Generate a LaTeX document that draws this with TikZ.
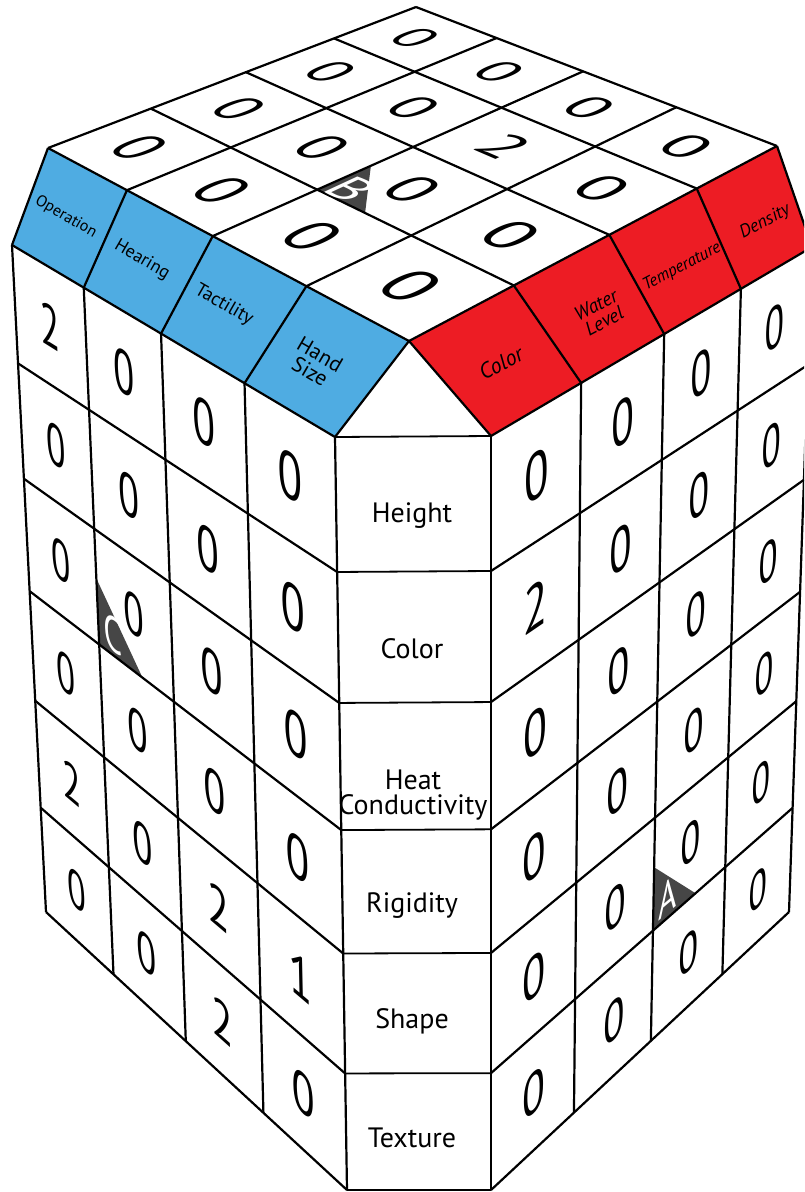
\documentclass[tikz,border=0pt]{standalone}
\usepackage{fontspec}
\setmainfont{PT Sans}
\usetikzlibrary{calc}
\definecolor{cubeblue}{RGB}{79,172,226}
\definecolor{cubered}{RGB}{237,28,36}
\definecolor{markgray}{RGB}{70,70,70}
% homography from unit square: P00=(#1,#2) P10=(#3,#4) P11=(#5,#6) P01=(#7,#8)
\newcommand\Hset[8]{%
  \edef\Hdxa{\fpeval{(#3)-(#5)}}%
  \edef\Hdxb{\fpeval{(#7)-(#5)}}%
  \edef\Hdxc{\fpeval{(#1)-(#3)+(#5)-(#7)}}%
  \edef\Hdya{\fpeval{(#4)-(#6)}}%
  \edef\Hdyb{\fpeval{(#8)-(#6)}}%
  \edef\Hdyc{\fpeval{(#2)-(#4)+(#6)-(#8)}}%
  \edef\Hden{\fpeval{(\Hdxa)*(\Hdyb)-(\Hdxb)*(\Hdya)}}%
  \edef\Hg{\fpeval{((\Hdxc)*(\Hdyb)-(\Hdxb)*(\Hdyc))/(\Hden)}}%
  \edef\Hh{\fpeval{((\Hdxa)*(\Hdyc)-(\Hdxc)*(\Hdya))/(\Hden)}}%
  \edef\Ha{\fpeval{(#3)-(#1)+(\Hg)*(#3)}}%
  \edef\Hb{\fpeval{(#7)-(#1)+(\Hh)*(#7)}}%
  \edef\Hc{#1}%
  \edef\Hd{\fpeval{(#4)-(#2)+(\Hg)*(#4)}}%
  \edef\He{\fpeval{(#8)-(#2)+(\Hh)*(#8)}}%
  \edef\Hf{#2}%
}
\newcommand\HP[2]{%
  \edef\Hq{\fpeval{(\Hg)*(#1)+(\Hh)*(#2)+1}}%
  \edef\px{\fpeval{round(((\Ha)*(#1)+(\Hb)*(#2)+(\Hc))/(\Hq),3)}}%
  \edef\py{\fpeval{round(((\Hd)*(#1)+(\He)*(#2)+(\Hf))/(\Hq),3)}}%
}
% local frame of a cell: u0 u1 v0 v1 S ; sign \Hs (+1: up = +v, -1: up = -v)
\newcommand\Hframe[5]{%
  \edef\uc{\fpeval{((#1)+(#2))/2}}\edef\vc{\fpeval{((#3)+(#4))/2}}%
  \HP{\uc}{\vc}\let\Cx\px\let\Cy\py
  \HP{#1}{\vc}\let\Lx\px\let\Ly\py
  \HP{#2}{\vc}\let\Rx\px\let\Ry\py
  \HP{\uc}{#3}\let\Ax\px\let\Ay\py
  \HP{\uc}{#4}\let\Bx\px\let\By\py
  \edef\Ea{\fpeval{round(((\Rx)-(\Lx))/(#5),4)}}%
  \edef\Eb{\fpeval{round(-((\Ry)-(\Ly))/(#5),4)}}%
  \edef\Ec{\fpeval{round((\Hs)*((\Bx)-(\Ax))/(#5),4)}}%
  \edef\Ed{\fpeval{round(-(\Hs)*((\By)-(\Ay))/(#5),4)}}%
}
\newcommand\gridpts[3]{%
  \foreach \i in {0,...,#2}{\foreach \j in {0,...,#3}{%
    \HP{\i/#2}{\j/#3}\coordinate (#1-\i-\j) at (\px,\py);}}}
\newcommand\Tface{\Hset{48}{148}{409}{341}{777}{146}{416}{7}}
\newcommand\Lface{\Hset{12}{245}{335}{437}{347}{1190}{46}{912}}
\newcommand\Rface{\Hset{491}{436}{812}{247}{789}{912}{491}{1190}}
\begin{document}
\begin{tikzpicture}[x=1pt,y=-1pt,
  ln/.style={line width=2.2pt},
  mln/.style={line width=1.8pt},
  dig/.style={font=\fontsize{10}{12}\selectfont, inner sep=0pt},
  mlet/.style={font=\fontsize{8.5}{10}\selectfont, inner sep=0pt, text=white},
  midlab/.style={font=\fontsize{28}{25}\selectfont, inner sep=0pt, anchor=base},
  bluelab/.style={inner sep=0pt, rotate=-30, align=center},
  redlab/.style={inner sep=0pt, rotate=28, align=center},
  blueface/.style={fill=cubeblue},
  redface/.style={fill=cubered},
  marker/.style={fill=markgray}]
\useasboundingbox (0,0) rectangle (804,1192);
\fill[white] (0,0) rectangle (804,1192);
\clip (0,0) rectangle (804,1192);
% ---------- coordinates
\Tface
\gridpts{t}{4}{4}
\HP{0.5}{0.25}\coordinate (b0) at (\px,\py);
\HP{0.63}{0.25}\coordinate (b1) at (\px,\py);
\HP{0.5}{0.3875}\coordinate (b2) at (\px,\py);
\Lface
\gridpts{l}{4}{6}
\HP{0.25}{0.5}\coordinate (c0) at (\px,\py);
\HP{0.25}{0.4043}\coordinate (c1) at (\px,\py);
\HP{0.397}{0.5}\coordinate (c2) at (\px,\py);
\Rface
\gridpts{r}{4}{6}
\HP{0.5}{0.83333}\coordinate (a0) at (\px,\py);
\HP{0.5}{0.7393}\coordinate (a1) at (\px,\py);
\HP{0.645}{0.83333}\coordinate (a2) at (\px,\py);
% ---------- coloured strips
\foreach \i/\k in {0/1,1/2,2/3,3/4}{
  \fill[blueface] (t-\i-0) -- (t-\k-0) -- (l-\k-0) -- (l-\i-0) -- cycle;
  \fill[redface] (t-4-\i) -- (t-4-\k) -- (r-\k-0) -- (r-\i-0) -- cycle;
}
% ---------- markers
\fill[marker] (b0) -- (b1) -- (b2) -- cycle;
\fill[marker] (c0) -- (c1) -- (c2) -- cycle;
\fill[marker] (a0) -- (a1) -- (a2) -- cycle;
% ---------- lines
\foreach \i in {0,...,4}{
  \draw[ln] (t-\i-0) -- (t-\i-4);
  \draw[ln] (t-0-\i) -- (t-4-\i);
  \draw[ln] (l-\i-0) -- (l-\i-6);
  \draw[ln] (r-\i-0) -- (r-\i-6);
  \draw[ln] (t-\i-0) -- (l-\i-0);
  \draw[ln] (t-4-\i) -- (r-\i-0);
}
\foreach \j in {0,...,6}{
  \draw[ln] (l-0-\j) -- (l-4-\j);
  \draw[ln] (r-0-\j) -- (r-4-\j);
  \draw[mln] (l-4-\j) -- (r-0-\j);
}
% ---------- middle labels
\node[midlab] (m1) at (412,522) {Height};
\node[midlab] (m2) at (412,658) {Color};
\node[midlab, anchor=center, align=center] (m3) at (413,795) {Heat\\Conductivity};
\node[midlab] (m4) at (412,912) {Rigidity};
\node[midlab] (m5) at (412,1028) {Shape};
\node[midlab] (m6) at (412,1147) {Texture};
% ---------- strip labels
\node[bluelab, font=\fontsize{16}{16}\selectfont] (bl1) at (66,217) {Operation};
\node[bluelab, font=\fontsize{18}{18}\selectfont] (bl2) at (142,260) {Hearing};
\node[bluelab, font=\fontsize{19}{19}\selectfont] (bl3) at (224,305) {Tactility};
\node[bluelab, font=\fontsize{21.5}{20}\selectfont] (bl4) at (315,363) {Hand\\Size};
\node[redlab, font=\fontsize{22}{22}\selectfont\itshape] (rl1) at (501,363) {Color};
\node[redlab, font=\fontsize{19.5}{18}\selectfont\itshape] (rl2) at (600,313) {Water\\Level};
\node[redlab, font=\fontsize{17}{17}\selectfont\itshape] (rl3) at (682,267) {Temperature};
\node[redlab, font=\fontsize{18}{18}\selectfont\itshape] (rl4) at (765,222) {Density};
% ---------- top digits
\Tface\def\Hs{1}
\foreach \col [count=\i from 0] in {{0,0,0,0},{0,0,0,0},{0,0,2,0},{0,0,0,0}}{
  \foreach \val [count=\j from 0] in \col {
    \Hframe{\i/4}{(\i+1)/4}{\j/4}{(\j+1)/4}{17}
    \node[dig, cm={\Ea,\Eb,\Ec,\Ed,(0,0)}] (td-\i-\j) at (\Cx,\Cy) {\val};
  }}
\Hframe{0.5}{0.75}{0.25}{0.5}{17}
\node[mlet, cm={\Ea,\Eb,\Ec,\Ed,(0,0)}] (mB) at ($1/3*(b0)+1/3*(b1)+1/3*(b2)$) {B};
% ---------- left digits
\Lface\def\Hs{-1}
\foreach \col [count=\i from 0] in {{2,0,0,0,2,0},{0,0,0,0,0,0},{0,0,0,0,2,2},{0,0,0,0,1,0}}{
  \foreach \val [count=\j from 0] in \col {
    \Hframe{\i/4}{(\i+1)/4}{\j/6}{(\j+1)/6}{20}
    \node[dig, cm={\Ea,\Eb,\Ec,\Ed,(0,0)}] (ld-\i-\j) at (\Cx,\Cy) {\val};
  }}
\Hframe{0.25}{0.5}{2/6}{3/6}{20}
\node[mlet, cm={\Ea,\Eb,\Ec,\Ed,(0,0)}] (mC) at ($1/3*(c0)+1/3*(c1)+1/3*(c2)$) {C};
% ---------- right digits
\Rface\def\Hs{-1}
\foreach \col [count=\i from 0] in {{0,2,0,0,0,0},{0,0,0,0,0,0},{0,0,0,0,0,0},{0,0,0,0,0,0}}{
  \foreach \val [count=\j from 0] in \col {
    \Hframe{\i/4}{(\i+1)/4}{\j/6}{(\j+1)/6}{20}
    \node[dig, cm={\Ea,\Eb,\Ec,\Ed,(0,0)}] (rd-\i-\j) at (\Cx,\Cy) {\val};
  }}
\Hframe{0.5}{0.75}{4/6}{5/6}{20}
\node[mlet, cm={\Ea,\Eb,\Ec,\Ed,(0,0)}] (mA) at ($1/3*(a0)+1/3*(a1)+1/3*(a2)$) {A};
\end{tikzpicture}
\end{document}
